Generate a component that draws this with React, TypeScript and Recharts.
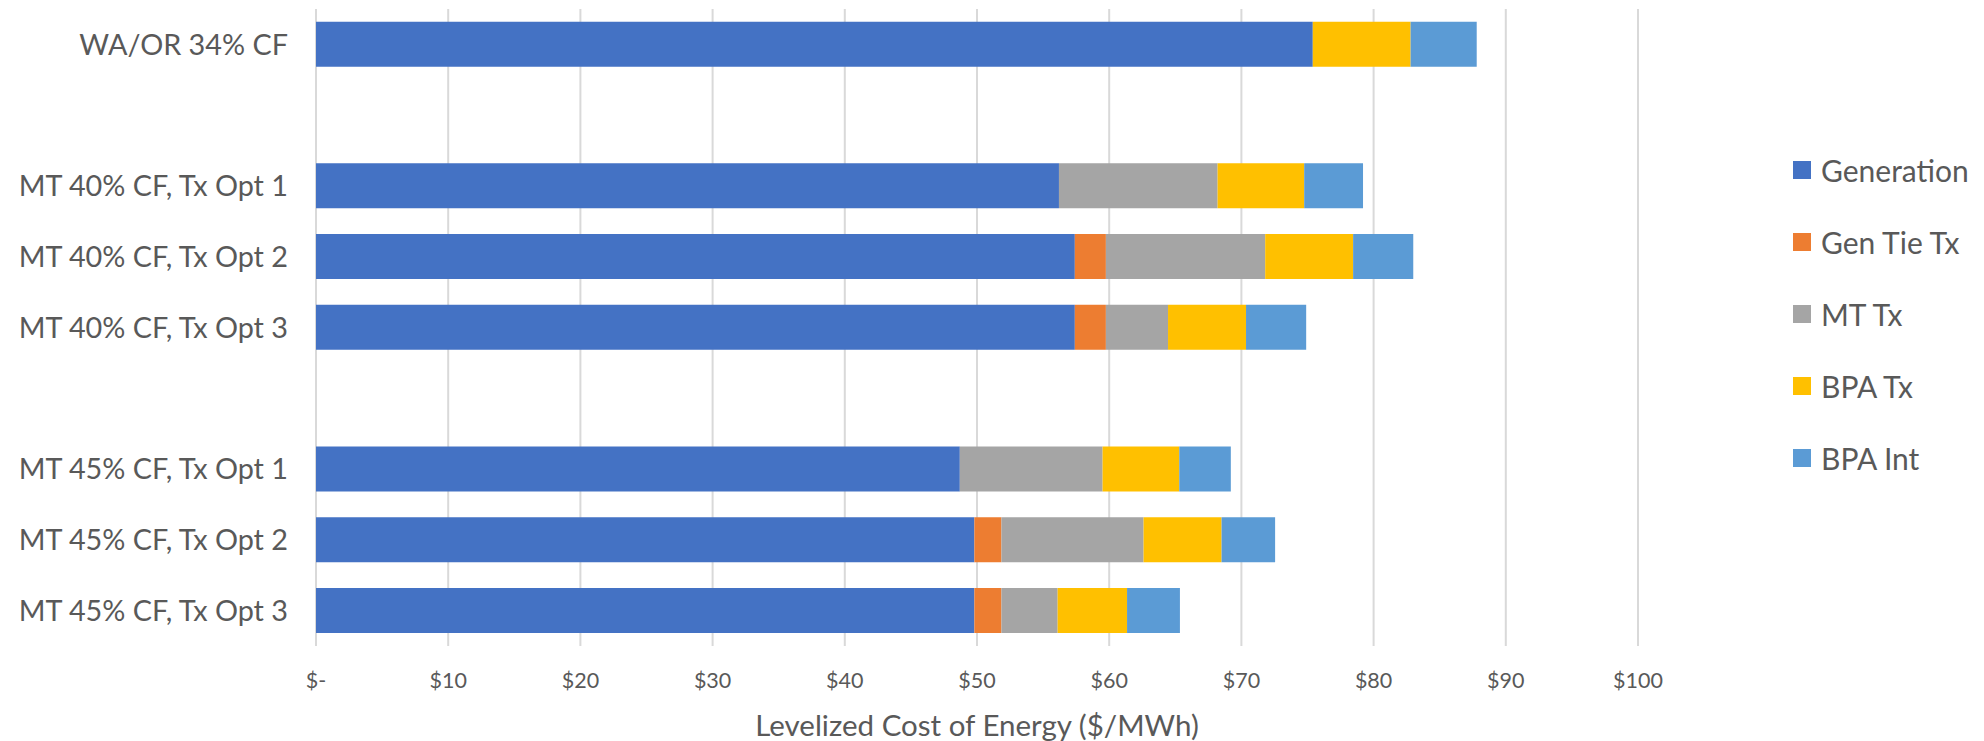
import React from 'react';
import { BarChart, Bar, XAxis, YAxis, CartesianGrid, Legend } from 'recharts';

// rows top to bottom; 'gap' rows are empty spacers
const categories = [
  'WA/OR 34% CF',
  'gap1',
  'MT 40% CF, Tx Opt 1',
  'MT 40% CF, Tx Opt 2',
  'MT 40% CF, Tx Opt 3',
  'gap2',
  'MT 45% CF, Tx Opt 1',
  'MT 45% CF, Tx Opt 2',
  'MT 45% CF, Tx Opt 3',
];

const generation = [75.4, null, 56.2, 57.4, 57.4, null, 48.7, 49.8, 49.8];
const genTieTx = [0, null, 0, 2.35, 2.35, null, 0, 2.05, 2.05];
const mtTx = [0, null, 12.0, 12.05, 4.7, null, 10.8, 10.75, 4.25];
const bpaTx = [7.4, null, 6.55, 6.65, 5.9, null, 5.8, 5.9, 5.25];
const bpaInt = [5.0, null, 4.45, 4.55, 4.55, null, 3.9, 4.05, 4.0];

const xTicks = [0, 10, 20, 30, 40, 50, 60, 70, 80, 90, 100];

const series = [
  { key: 'gen', name: 'Generation', color: '#4472C4' },
  { key: 'tie', name: 'Gen Tie Tx', color: '#ED7D31' },
  { key: 'mt', name: 'MT Tx', color: '#A5A5A5' },
  { key: 'bpa', name: 'BPA Tx', color: '#FFC000' },
  { key: 'int', name: 'BPA Int', color: '#5B9BD5' },
];

const data = categories.map((name, i) => ({
  name,
  gen: generation[i],
  tie: genTieTx[i],
  mt: mtTx[i],
  bpa: bpaTx[i],
  int: bpaInt[i],
}));

const FONT = 'Lato, "Open Sans", sans-serif';
const TEXT = '#595959';

// keep the legend in series order (Recharts sorts the payload by name)
const LegendList = () => (
  <ul style={{ listStyle: 'none', margin: 0, padding: 0, fontFamily: FONT }}>
    {series.map((s) => (
      <li key={s.key} style={{ height: 72, display: 'flex', alignItems: 'center' }}>
        <span style={{ width: 18, height: 18, background: s.color, display: 'inline-block', marginRight: 10 }} />
        <span style={{ fontSize: 30, color: TEXT }}>{s.name}</span>
      </li>
    ))}
  </ul>
);

export default function App() {
  return (
    <div style={{ position: 'absolute', left: 0, top: 0, background: '#fff' }}>
      <BarChart
        width={1984}
        height={741}
        data={data}
        layout="vertical"
        margin={{ top: 9, right: 346, bottom: 0, left: 0 }}
        barCategoryGap="18%"
      >
        <CartesianGrid horizontal={false} stroke="#D9D9D9" strokeWidth={2} />
        <XAxis
          type="number"
          domain={[0, 100]}
          ticks={xTicks}
          axisLine={false}
          tickLine={false}
          tickSize={0}
          tickMargin={27}
          height={95}
          tick={{ fill: TEXT, fontSize: 21.5, fontFamily: FONT }}
          tickFormatter={(v) => (v === 0 ? '$-' : `$${v}`)}
          label={{
            value: 'Levelized Cost of Energy ($/MWh)',
            position: 'insideBottom',
            offset: 5,
            fill: TEXT,
            fontSize: 29.5,
            fontFamily: FONT,
          }}
        />
        <YAxis
          type="category"
          dataKey="name"
          width={316}
          axisLine={false}
          tickLine={false}
          tickSize={0}
          tickMargin={28}
          interval={0}
          tick={{ fill: TEXT, fontSize: 28.8, fontFamily: FONT }}
          tickFormatter={(v) => (String(v).startsWith('gap') ? '' : v)}
        />
        <Legend
          layout="vertical"
          align="center"
          verticalAlign="middle"
          content={<LegendList />}
          wrapperStyle={{ left: 1793, top: 134, width: 190 }}
        />
        {series.map((s) => (
          <Bar key={s.key} dataKey={s.key} name={s.name} stackId="a" fill={s.color} isAnimationActive={false} />
        ))}
      </BarChart>
    </div>
  );
}
